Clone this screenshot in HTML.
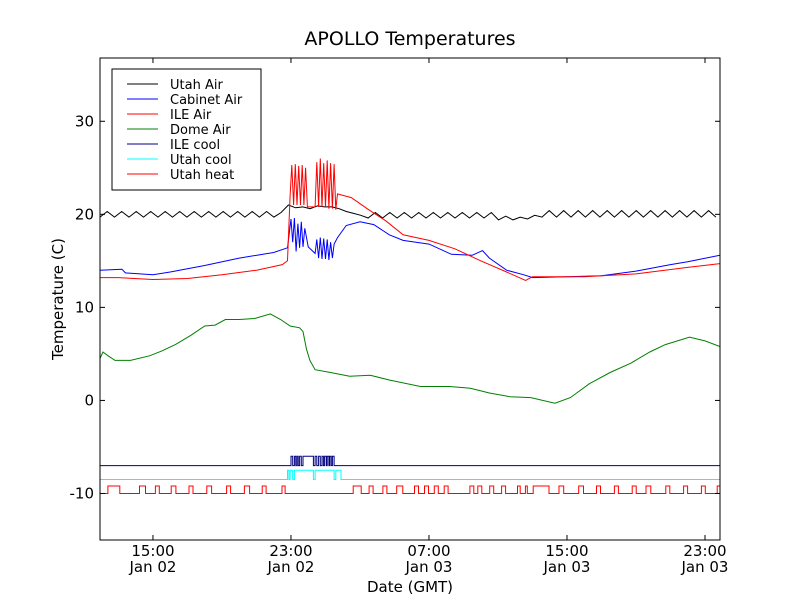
<!DOCTYPE html>
<html><head><meta charset="utf-8"><style>
body{margin:0;background:#fff;}
svg{display:block;font-family:"DejaVu Sans","Liberation Sans",sans-serif;}
</style></head><body>
<svg id="chart" width="800" height="600" viewBox="0 0 800 600">
<rect width="800" height="600" fill="#fff"/>
<text x="410" y="45" font-size="19" text-anchor="middle">APOLLO Temperatures</text>
<text x="410" y="592" font-size="15" text-anchor="middle">Date (GMT)</text>
<text x="63" y="299" font-size="15" text-anchor="middle" transform="rotate(-90 63 299)">Temperature (C)</text>
<g id="plot"></g>
<g id="axes"></g>
<g id="legend"></g>
</svg>
<script>
const xTicks=[15,23,31,39,47];
const xTickTimes=["15:00","23:00","07:00","15:00","23:00"];
const xTickDates=["Jan 02","Jan 02","Jan 03","Jan 03","Jan 03"];
const yTicks=[-10,0,10,20,30];
const seriesNames=["Utah Air","Cabinet Air","ILE Air","Dome Air","ILE cool","Utah cool","Utah heat"];
const seriesColors=["#000000","#0000ff","#ff0000","#008000","#000080","#00ffff","#ff0000"];
const utahAirStart=11.93, utahAirStep=0.42;
const utahAir=[19.7,20.3,19.7,20.3,19.7,20.3,19.7,20.3,19.7,20.3,19.7,20.3,19.7,20.3,19.7,20.3,19.7,20.3,19.7,20.3,19.7,20.3,19.7,20.3,19.7,
20.2,21.0,20.7,20.8,20.6,20.9,20.8,20.8,20.6,20.3,20.1,19.9,
19.6,20.2,19.6,20.2,19.6,20.2,19.6,20.2,19.6,20.2,19.6,20.2,19.6,20.2,19.6,20.2,19.6,20.2,
19.4,19.8,19.4,19.7,19.5,19.9,
19.7,20.4,19.7,20.4,19.7,20.4,19.7,20.4,19.7,20.4,19.7,20.4,19.7,20.4,19.7,20.4,19.7,20.4,19.7,20.4,19.7,20.4,19.7,20.4,19.7];
const cabinetT=[11.93,13.2,13.4,15,16,18,20,22,22.8,23.0,23.1,23.2,23.3,23.4,23.5,23.6,23.7,23.8,24,24.4,24.5,24.6,24.7,24.8,24.9,25.0,25.1,25.2,25.3,25.4,25.5,25.7,26.2,27,27.8,28.7,29.5,31,32.3,33.5,34.1,34.5,35.5,36.5,37,39,41,43,45,46,47.87];
const cabinetV=[14.0,14.1,13.7,13.5,13.8,14.5,15.3,15.9,16.4,19.5,17,19.6,16,19,16.4,19.2,16.5,18.5,16.5,15.8,17.3,15.3,17.5,15.2,17.4,15.2,17.3,15.1,17.0,15.3,16.8,17.5,18.8,19.2,18.9,17.8,17.2,16.8,15.7,15.6,16.1,15.3,14.0,13.5,13.2,13.3,13.4,13.9,14.6,14.9,15.6];
const ileAirT=[11.93,13,15,17,19,21,22.5,22.8,22.95,23.05,23.15,23.25,23.35,23.45,23.55,23.65,23.75,23.85,23.95,24.4,24.5,24.6,24.7,24.8,24.9,25.0,25.1,25.2,25.3,25.4,25.5,25.6,25.7,26.5,27.5,28.5,29.5,31,32.5,34,35.5,36.6,37,40,43,46,47.87];
const ileAirV=[13.2,13.2,13.0,13.1,13.5,14.0,14.6,15.0,22,25.3,21,25.4,21,25.2,21,25.3,21,25.0,20.8,20.8,25.6,20.8,26,20.8,25.5,20.8,25.8,20.6,25.5,20.6,25.4,20.5,22.2,21.8,20.5,19.3,17.8,17.2,16.3,15.0,13.8,12.9,13.3,13.3,13.6,14.3,14.7];
const domeT=[11.93,12.1,12.4,12.8,13.7,14.8,15.5,16.3,17.2,18.0,18.6,19.2,20.0,20.9,21.8,22.4,22.95,23.5,23.7,23.9,24.1,24.4,25.3,26.4,27.6,28.7,30.5,32.2,33.4,34.5,35.7,36.9,38.3,39.2,40.3,41.5,42.7,43.8,44.7,46.1,47.0,47.87];
const domeV=[4.5,5.2,4.8,4.3,4.3,4.8,5.3,6.0,7.0,8.0,8.1,8.7,8.7,8.8,9.3,8.7,8.0,7.8,7.4,5.5,4.3,3.3,3.0,2.6,2.7,2.2,1.5,1.5,1.3,0.8,0.4,0.3,-0.3,0.3,1.8,3.0,4.0,5.2,6.0,6.8,6.4,5.8];
const ileCoolOn=[23.0,23.2,23.35,23.5,23.7,24.4,24.6,24.8,24.95,25.1,25.25,25.4];
const ileCoolOff=[23.1,23.28,23.42,23.6,24.3,24.5,24.7,24.88,25.05,25.2,25.33,25.5];
const utahCoolOn=[22.8,22.95,23.2,24.4,25.6];
const utahCoolOff=[22.88,23.1,24.3,25.5,25.9];
const heatOn=[12.39,14.22,15.14,16.06,17.09,18.12,19.27,20.3,21.33,22.48,26.61,27.53,28.33,29.13,30.16,30.74,31.31,31.88,33.37,33.83,34.52,35.21,36.13,36.59,37.04,38.54,39.68,40.71,41.75,42.78,43.58,44.73,45.76,46.79,47.71];
const heatOff=[13.08,14.57,15.37,16.33,17.32,18.4,19.5,20.6,21.56,22.66,27.07,27.76,28.56,29.48,30.39,30.97,31.54,32.11,33.6,34.06,34.75,35.44,36.29,36.7,37.96,38.81,39.96,40.94,41.98,43.01,43.86,44.96,45.99,47.02,47.87];

const X0=100,X1=720,Y0=58,Y1=540,xmin=11.93,xmax=47.87,ymin=-15,ymax=36.8;
const sx=t=>X0+(t-xmin)/(xmax-xmin)*(X1-X0);
const sy=v=>Y1-(v-ymin)/(ymax-ymin)*(Y1-Y0);
const NS="http://www.w3.org/2000/svg";
const plot=document.getElementById('plot');
function line(pts,color,name){
  const p=document.createElementNS(NS,'polyline');
  p.setAttribute('points',pts.map(q=>sx(q[0]).toFixed(1)+','+sy(q[1]).toFixed(1)).join(' '));
  p.setAttribute('fill','none');p.setAttribute('stroke',color);p.setAttribute('stroke-width','1');
  
  
  plot.appendChild(p);
}
function pulses(on,off,lo,hi){
  const pts=[[xmin,lo]];
  for(let i=0;i<on.length;i++){pts.push([on[i],lo],[on[i],hi],[off[i],hi],[off[i],lo]);}
  pts.push([xmax,lo]);return pts;
}
const cp=document.createElementNS(NS,'clipPath');cp.setAttribute('id','clip');
const cr=document.createElementNS(NS,'rect');cr.setAttribute('x',X0);cr.setAttribute('y',Y0);cr.setAttribute('width',X1-X0);cr.setAttribute('height',Y1-Y0);
cp.appendChild(cr);document.getElementById('chart').appendChild(cp);
plot.setAttribute('clip-path','url(#clip)');
line(utahAir.map((v,i)=>[utahAirStart+i*utahAirStep,v]),seriesColors[0],'utah-air-line');
line(cabinetT.map((t,i)=>[t,cabinetV[i]]),seriesColors[1],'cabinet-air-line');
line(ileAirT.map((t,i)=>[t,ileAirV[i]]),seriesColors[2],'ile-air-line');
line(domeT.map((t,i)=>[t,domeV[i]]),seriesColors[3],'dome-air-line');
line(pulses(ileCoolOn,ileCoolOff,-7,-6),seriesColors[4],'ile-cool-line');
line(pulses(utahCoolOn,utahCoolOff,-8.5,-7.5),seriesColors[5],'utah-cool-line');
line(pulses(heatOn,heatOff,-10,-9.2),seriesColors[6],'utah-heat-line');

const axes=document.getElementById('axes');
let h=`<rect x="${X0}" y="${Y0}" width="${X1-X0}" height="${Y1-Y0}" fill="none" stroke="#000" stroke-width="1"/>`;
yTicks.forEach(v=>{const y=sy(v);
 h+=`<line x1="${X0}" x2="${X0+5}" y1="${y}" y2="${y}" stroke="#000"/><line x1="${X1-5}" x2="${X1}" y1="${y}" y2="${y}" stroke="#000"/>`;
 h+=`<text x="${X0-6}" y="${y+5}" font-size="15" text-anchor="end">${v}</text>`;});
xTicks.forEach((t,i)=>{const x=sx(t);
 h+=`<line x1="${x}" x2="${x}" y1="${Y1-5}" y2="${Y1}" stroke="#000"/><line x1="${x}" x2="${x}" y1="${Y0}" y2="${Y0+5}" stroke="#000"/>`;
 h+=`<text x="${x}" y="556" font-size="15" text-anchor="middle">${xTickTimes[i]}</text>`;
 h+=`<text x="${x}" y="572" font-size="15" text-anchor="middle">${xTickDates[i]}</text>`;});
axes.innerHTML=h;

let lg=`<rect x="112" y="69" width="149" height="121" fill="#fff" stroke="#000" stroke-width="1"/>`;
seriesNames.forEach((n,i)=>{const y=84+i*15;
 lg+=`<g><line x1="127" x2="158" y1="${y}" y2="${y}" stroke="${seriesColors[i]}" stroke-width="1"/><text x="170" y="${y+5}" font-size="13">${n}</text></g>`;});
document.getElementById('legend').innerHTML=lg;
</script>
</body></html>
